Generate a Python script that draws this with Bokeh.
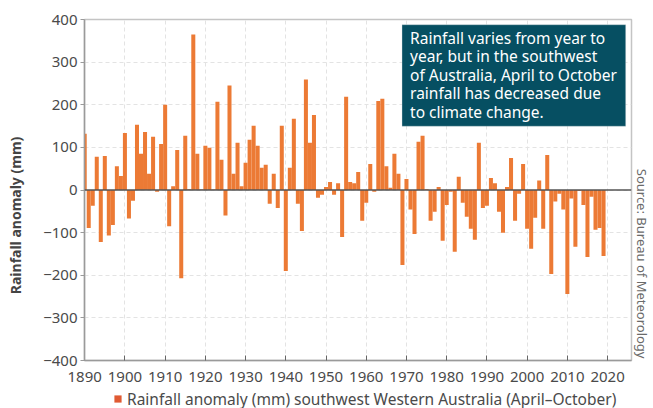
from bokeh.plotting import figure
from bokeh.layouts import column
from bokeh.models import (ColumnDataSource, FixedTicker, Span, BoxAnnotation, Label,
                          Legend, LegendItem, Range1d, Title)
from bokeh.embed import file_html
from bokeh.resources import INLINE

# ---------------- data ----------------
years = list(range(1890, 2020))
anomaly = [
    132, -89, -37, 78, -122, 80, -107, -82, 56, 33,        # 1890s
    134, -67, -25, 153, 85, 136, 38, 125, -4, 108,         # 1900s
    200, -85, 9, 94, -207, 127, 2, 365, 85, 1,             # 1910s
    104, 99, 1, 207, 71, -60, 245, 38, 111, 9,             # 1920s
    64, 118, 151, 104, 52, 59, -32, 38, -42, 151,          # 1930s
    -190, 52, 167, -32, -96, 259, 111, 176, -18, -11,      # 1940s
    7, 19, -11, 16, -110, 219, 19, 16, 42, -72,            # 1950s
    -30, 61, -4, 209, 214, 56, 5, 85, 38, -176,            # 1960s
    26, -46, -103, 113, 127, 2, -72, -51, 7, -119,         # 1970s
    -35, -4, -145, 31, -30, -63, -91, -117, 111, -42,      # 1980s
    -37, 28, 16, -51, -100, 7, 75, -72, -9, 61,            # 1990s
    -91, -138, -65, 22, -91, 82, -197, -27, -9, -46,       # 2000s
    -244, -20, -133, -2, -35, -157, -16, -93, -89, -155,   # 2010s
]
x_ticks = list(range(1890, 2021, 10))
y_ticks = list(range(-400, 401, 100))
y_tick_labels = [str(v).replace("-", "\u2212") for v in y_ticks]
y_axis_title = "Rainfall anomaly (mm)"
legend_label = "Rainfall anomaly (mm) southwest Western Australia (April\u2013October)"
note_text = ("Rainfall varies from year to\nyear, but in the southwest\n"
             "of Australia, April to October\nrainfall has decreased due\nto climate change.")
source_text = "Source: Bureau of Meteorology"

# ---------------- style ----------------
FONT = "Noto Sans"
LABEL_FONT = "Liberation Sans Narrow, Noto Sans"
BAR = "#ec7a35"
LEG = "#e05a32"
TEAL = "#064f62"
TXT = "#4a4a4a"

src = ColumnDataSource(data=dict(year=years, anomaly=anomaly))

p = figure(width=653, height=392, output_backend="svg", toolbar_location=None,
           x_range=Range1d(1889.95, 2025.95), y_range=Range1d(-400, 400),
           min_border_left=84, min_border_right=20, min_border_top=19,
           min_border_bottom=32)
p.background_fill_color = "white"
p.border_fill_color = "white"
p.outline_line_color = "#c4c4c4"
p.outline_line_width = 1.5

p.xgrid.grid_line_color = "#e3e3e3"
p.xgrid.grid_line_dash = "4 3"
p.ygrid.grid_line_color = "#e3e3e3"
p.ygrid.grid_line_dash = "4 3"

bars = p.vbar(x="year", top="anomaly", width=1.0, source=src,
              fill_color=BAR, line_color=None)

p.add_layout(Span(location=0, dimension="width", line_color="#555555", line_width=1.5))

xa = p.xaxis[0]
xa.ticker = FixedTicker(ticks=x_ticks)
xa.major_tick_in = 5
xa.major_tick_out = 0
xa.minor_tick_line_color = None
xa.axis_line_color = "#9a9a9a"
xa.axis_line_width = 1.5
xa.major_tick_line_color = "#666666"
xa.major_label_text_font = FONT
xa.major_label_text_font_size = "15px"
xa.major_label_text_color = TXT
xa.major_label_standoff = 11

ya = p.yaxis[0]
ya.ticker = FixedTicker(ticks=y_ticks)
ya.major_label_overrides = dict(zip(y_ticks, y_tick_labels))
ya.major_tick_in = 0
ya.major_tick_out = 4
ya.minor_tick_line_color = None
ya.axis_line_color = "#9a9a9a"
ya.axis_line_width = 1.5
ya.major_tick_line_color = "#9a9a9a"
ya.major_label_text_font = FONT
ya.major_label_text_font_size = "15px"
ya.major_label_text_color = TXT
ya.major_label_standoff = 3
# trailing no-break spaces nudge the (centred) title towards the lower part of the axis
ya.axis_label = y_axis_title + "\u00a0" * 14
ya.axis_label_text_font = LABEL_FONT
ya.axis_label_text_font_style = "bold"
ya.axis_label_text_font_size = "14px"
ya.axis_label_text_color = "#444444"
ya.axis_label_standoff = 15

# annotation box
p.add_layout(BoxAnnotation(left=1968.9, right=2024.5, top=387.6, bottom=149.7,
                           fill_color=TEAL, fill_alpha=1.0,
                           line_color="#d0d8dc", line_width=1, level="overlay"))
p.add_layout(Label(x=1968.9, y=387.6, x_offset=8, y_offset=-2, text=note_text,
                   text_font=FONT, text_font_size="15.5px", text_color="white",
                   text_align="left", text_baseline="top", text_line_height=0.84,
                   level="overlay"))

# source note on the right (side panel)
p.add_layout(Title(text=source_text, align="right", offset=2, standoff=2,
                   text_font=FONT, text_font_size="13px", text_font_style="normal",
                   text_color="#6a6a6a"), "right")

# ---------------- legend strip ----------------
lg = figure(width=653, height=16, output_backend="svg", toolbar_location=None,
            x_axis_location=None, y_axis_location=None,
            x_range=Range1d(0, 1), y_range=Range1d(0, 1),
            min_border_left=0, min_border_right=0, min_border_top=0, min_border_bottom=0)
lg.outline_line_color = None
lg.grid.visible = False
lg.background_fill_color = "white"
lg.border_fill_color = "white"
# zero-size swatch renderer: only its legend icon is shown
leg_r = lg.vbar(x=[0], top=[0], width=0, fill_color=LEG, line_color=None)
legend = Legend(items=[LegendItem(label=legend_label, renderers=[leg_r])],
                location=(29, -1.5), orientation="horizontal",
                border_line_color=None, background_fill_alpha=0,
                padding=0, margin=0, glyph_width=9, glyph_height=9,
                label_standoff=5, label_height=16,
                label_text_font=FONT, label_text_font_size="15.5px",
                label_text_color=TXT)
lg.add_layout(legend)

layout = column(p, lg, spacing=0)
open("out.html", "w").write(file_html(layout, INLINE))
